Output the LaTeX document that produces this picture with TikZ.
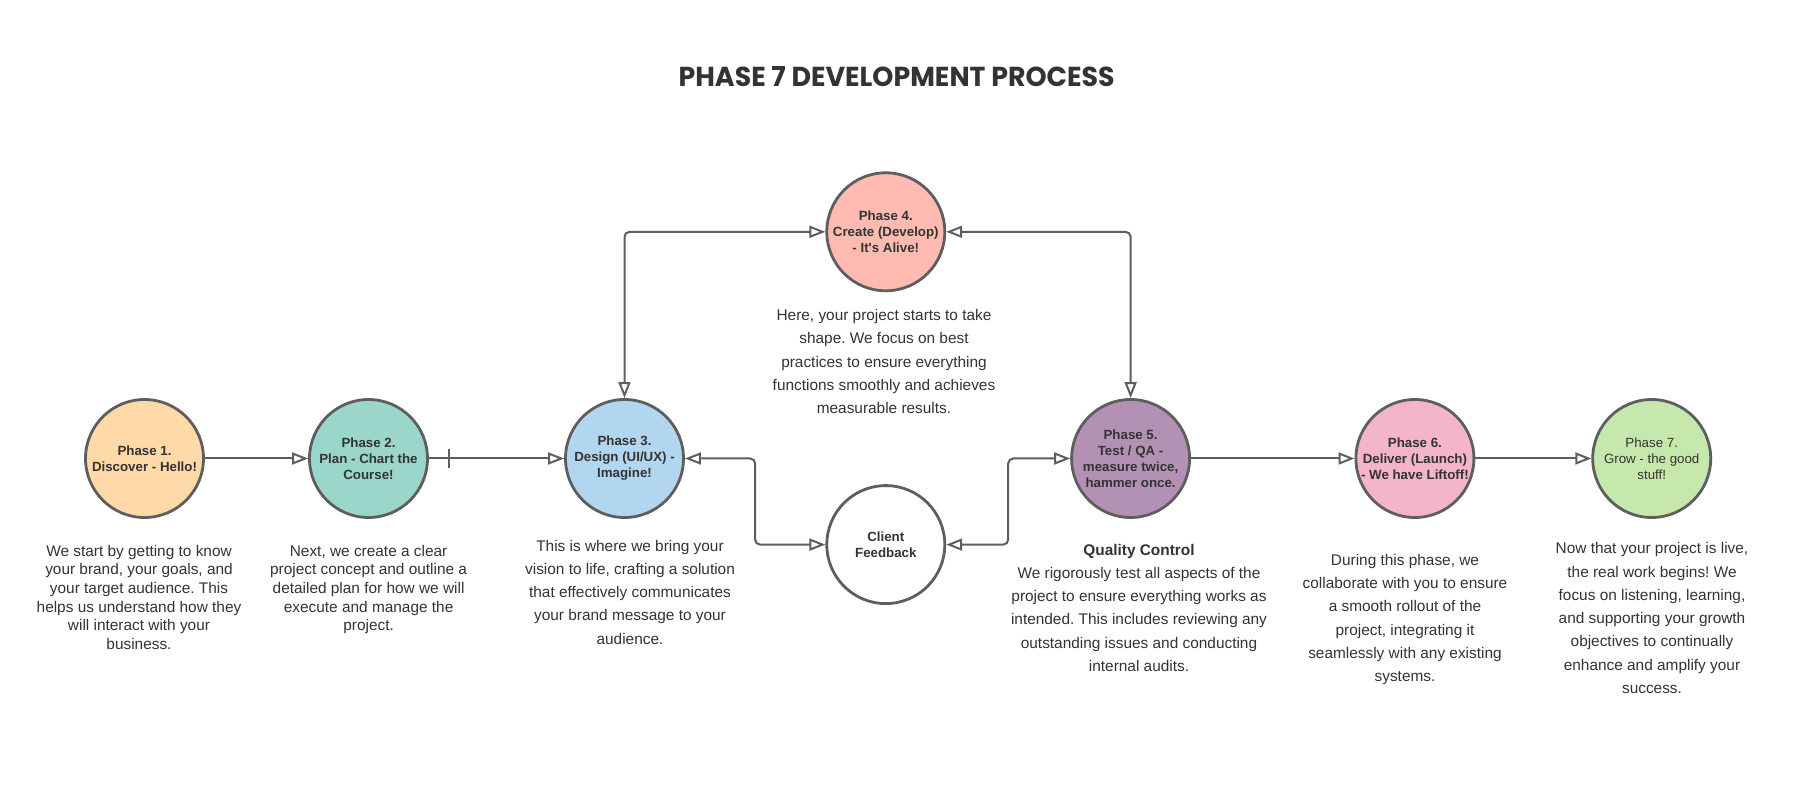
\documentclass[tikz,border=0pt]{standalone}
\usepackage{fontspec}
\usepackage{graphicx}
\setmainfont{Liberation Sans}
\newfontfamily\titlefont{Poppins}
\usetikzlibrary{arrows.meta,calc}
\definecolor{strokec}{HTML}{5E5E5E}
\definecolor{txtc}{HTML}{333333}
\definecolor{cone}{HTML}{FFD9A8}
\definecolor{ctwo}{HTML}{9AD6CA}
\definecolor{cthree}{HTML}{B2D6EF}
\definecolor{cfour}{HTML}{FFBBB1}
\definecolor{cfive}{HTML}{B391B5}
\definecolor{csix}{HTML}{F4B5C8}
\definecolor{cseven}{HTML}{C7E8AC}
\frenchspacing
\newcommand{\desctext}[2]{\parbox[t]{280pt}{\centering\fontsize{15.4}{#1}\selectfont #2}}
\begin{document}
\begin{tikzpicture}[x=1pt,y=-1pt,
  phase/.style={circle,draw=strokec,line width=2.8pt,minimum size=118pt,inner sep=0pt,
    align=center,text=txtc,font=\bfseries\fontsize{13.3}{16}\selectfont},
  desc/.style={anchor=base,inner sep=0pt,text=txtc},
  tip/.tip={Triangle[open,length=16pt,width=12pt]},
  conn/.style={draw=strokec,line width=2pt,-tip},
  biconn/.style={draw=strokec,line width=2pt,rounded corners=5pt,tip-tip}]
\useasboundingbox[fill=white] (0,0) rectangle (1816,799);

\node[text=txtc] (title) at (896.6,77) {\resizebox{436pt}{20pt}{\titlefont\bfseries PHASE 7 DEVELOPMENT PROCESS}};

\node[phase,fill=cone] (p1) at (144.5,458.5) {Phase 1.\\Discover - Hello!};
\node[phase,fill=ctwo] (p2) at (368.5,458.5) {Phase 2.\\Plan - Chart the\\Course!};
\node[phase,fill=cthree] (p3) at (624.5,458.5) {Phase 3.\\Design (UI/UX) -\\Imagine!};
\node[phase,fill=cfour] (p4) at (885.8,231.8) {Phase 4.\\Create (Develop)\\- It\textquotesingle s Alive!};
\node[phase,fill=white] (cf) at (885.8,544.6) {Client\\Feedback};
\node[phase,fill=cfive] (p5) at (1130.6,458.5) {Phase 5.\\Test / QA -\\measure twice,\\hammer once.};
\node[phase,fill=csix] (p6) at (1414.9,458.5) {Phase 6.\\Deliver (Launch)\\- We have Liftoff!};
\node[phase,fill=cseven,font=\fontsize{13.3}{16}\selectfont] (p7) at (1651.7,458.5) {Phase 7.\\Grow - the good\\stuff!};

\node[desc] (t1) at (139,556) {\desctext{18.7}{We start by getting to know\\your brand, your goals, and\\your target audience. This\\helps us understand how they\\will interact with your\\business.}};
\node[desc] (t2) at (368.6,556) {\desctext{18.7}{Next, we create a clear\\project concept and outline a\\detailed plan for how we will\\execute and manage the\\project.}};
\node[desc] (t3) at (630,551) {\desctext{23.3}{This is where we bring your\\vision to life, crafting a solution\\that effectively communicates\\your brand message to your\\audience.}};
\node[desc] (t4) at (884,320.7) {\desctext{23.3}{Here, your project starts to take\\shape. We focus on best\\practices to ensure everything\\functions smoothly and achieves\\measurable results.}};
\node[desc] (t5) at (1139,555) {\desctext{23.3}{\textbf{Quality Control}\\We rigorously test all aspects of the\\project to ensure everything works as\\intended. This includes reviewing any\\outstanding issues and conducting\\internal audits.}};
\node[desc] (t6) at (1405,565.3) {\desctext{23.3}{During this phase, we\\collaborate with you to ensure\\a smooth rollout of the\\project, integrating it\\seamlessly with any existing\\systems.}};
\node[desc] (t7) at (1652,553.7) {\desctext{23.3}{Now that your project is live,\\the real work begins! We\\focus on listening, learning,\\and supporting your growth\\objectives to continually\\enhance and amplify your\\success.}};

\draw[conn] (p1) -- (p2);
\draw[conn] (p2) -- coordinate[pos=0.15] (tick) (p3);
\draw[draw=strokec,line width=2pt] (tick) ++(0,-9.5) -- ++(0,19);
\draw[conn] (p5) -- (p6);
\draw[conn] (p6) -- (p7);
\draw[biconn] (p3.north) |- (p4.west);
\draw[biconn] (p4.east) -| (p5.north);
\draw[biconn] (p3.east) -| ($(p3.east)!0.5!(cf.west)$) |- (cf.west);
\draw[biconn] (cf.east) -| ($(cf.east)!0.5!(p5.west)$) |- (p5.west);
\end{tikzpicture}
\end{document}
